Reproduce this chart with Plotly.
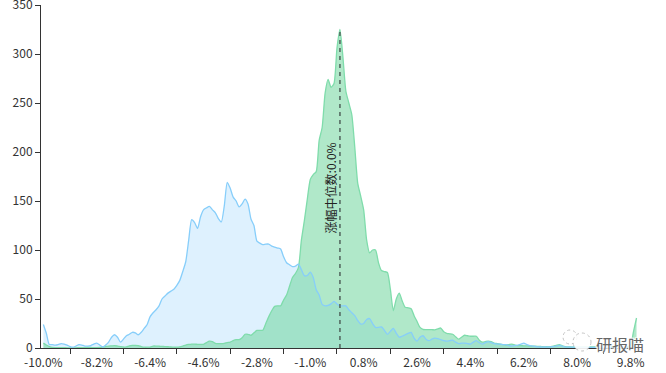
import plotly.graph_objects as go

x_values = [round(-10 + i * 0.1, 1) for i in range(201)]

blue_series = [
 24,15,3.5,3.5,3,3.5,4.5,4,3,1.5,
 .8,2,3.5,3,2,2,2.5,4,5,3,
 1,3,6,11,13.5,11,6,9,12.5,14,
 16,15.5,13.5,16,20,24,32,36,39,43,
 50,53,56,58,60,64,69,78,88,110,
 131,128,122,134,141,143,144.5,141,138,132,
 128.6,145,169,163,154,150,144,147,152,147,
 131.6,125,109,107,105.4,106,106,104,103,102,
 101,93,87,85,83,83.5,85.5,80,73.8,74,
 77.5,72,59.5,54,44.5,43,43.5,45,47.6,45,
 43,43,43,39,36,33,28,24.5,25,29,
 30,25,21,21,21.5,18,14,17,20,15,
 11,12,13.5,15,16,10,7,11,12.5,9,
 7.5,9,10,9.5,8.5,7.5,7,7.5,8,6,
 4.5,5,5,4.5,4,6,7.5,5.5,4,5.5,
 6.5,5.5,4.5,4,4,3.5,3.5,2.5,2,2.5,
 3,4,5,3.5,2.5,2,1.5,1.2,1,1,
 1,1.2,1.5,2,2.7,1.8,1,1,.8,.8,
 .8,.8,.7,.7,.6,.6,.5,.5,.5,.5,
 .5,.5,.5,.5,.6,.6,.6,.7,.8,1,
 2]

green_series = [
 5,3,1.5,.5,.3,.3,.3,.3,.2,.2,
 .2,.2,.3,.3,.3,.5,.5,.3,.3,.5,
 1,1.5,2,2.2,2.4,2,1.5,1,1.2,2.2,
 2.7,2.7,2.5,1.5,.8,.8,1,2,2,1.8,
 1.6,1.5,1.3,1,.8,.8,1.2,2,3,3.6,
 4,4,3.7,3.6,3.8,5.5,7,6.5,4.8,4.5,
 4.5,4.8,5.5,6,7.5,8.5,8.5,10.5,14,14,
 13,15.5,18,18,18.2,25,32,38,42.5,43,
 43,49,54,63,72,76,82,110,130,152,
 172,177,180,212,225,260,274,266,270,306,
 325,297,262,250,238,205,168,155,141,110,
 97,100,100,87,79,78,77,60,38,50,
 56,48,41.5,41,40,33,27,21,19,18.8,
 18.7,18.7,18.5,19.5,20.4,16.5,15,14.5,14,11.5,
 9,11,13,12.5,12,12,12,8,6,6.5,
 7,6.5,5,4.5,4,3.5,3,3.5,4,3,
 2.5,2.4,2.2,2.1,2,2,1.8,1.6,1.5,1.4,
 1.4,1.5,2,2.8,3.4,2.2,1.4,1.2,1,1,
 1,1,1,1,1,1,1,1,.9,.9,
 .8,.8,.8,.8,.9,.9,.9,1,3,17,
 30.6]

x_labels = [-10.0,-8.2,-6.4,-4.6,-2.8,-1.0,0.8,2.6,4.4,6.2,8.0,9.8]
x_tick_marks = [-9.1,-7.3,-5.5,-3.7,-1.9,-0.1,1.7,3.5,5.3,7.1,8.9]
y_ticks = [0,50,100,150,200,250,300,350]
median_value = 0.0
median_top = 325

FONT = "Noto Sans CJK SC"
SPLINE = dict(shape="spline", smoothing=0.6)
fig = go.Figure()
fig.add_trace(go.Scatter(x=x_values, y=blue_series, mode="none",
    line=SPLINE, fill="tozeroy", fillcolor="rgba(135,206,250,0.28)", hoverinfo="skip"))
fig.add_trace(go.Scatter(x=x_values, y=green_series, mode="lines",
    line=dict(color="#7fdcab", width=1.3, **SPLINE),
    fill="tozeroy", fillcolor="rgba(111,213,157,0.55)", hoverinfo="skip"))
fig.add_trace(go.Scatter(x=x_values, y=blue_series, mode="lines",
    line=dict(color="#87cefa", width=1.3, **SPLINE), hoverinfo="skip"))
fig.add_trace(go.Scatter(x=[median_value, median_value], y=[0, median_top], mode="lines",
    line=dict(color="#4f625b", width=1.5, dash="4px,4px"), hoverinfo="skip"))

fig.add_annotation(x=-0.33, y=163, text="涨幅中位数:0.0%", textangle=-90, showarrow=False,
    font=dict(family=FONT, size=12, color="#222"))
fig.add_annotation(xref="paper", yref="paper", x=1.014, y=0.012, xanchor="right", yanchor="middle",
    text="研报喵", showarrow=False,
    font=dict(family=FONT, size=16, color="#666",
              shadow="1px 1px 1px white, -1px -1px 1px white, 1px -1px 1px white, -1px 1px 1px white"))

# watermark glyph
for cx, cy, r in [(570, 337, 7), (582, 342, 9)]:
    fig.add_shape(type="circle", xref="paper", yref="paper",
        x0=(cx-r-41)/597, x1=(cx+r-41)/597,
        y0=(348-cy-r)/343, y1=(348-cy+r)/343,
        line=dict(color="#c4c4c4", width=1, dash="dot"), fillcolor="rgba(255,255,255,0.9)")

fig.update_layout(
    width=666, height=373, autosize=False,
    margin=dict(l=41, r=28, t=5, b=25, pad=0, autoexpand=False),
    paper_bgcolor="white", plot_bgcolor="white", showlegend=False,
    font=dict(family=FONT, size=12, color="#333"),
    xaxis=dict(range=[-10.08, 10.05], showgrid=False, zeroline=False, showline=True, automargin=False,
        linecolor="#333", linewidth=1, ticks="", ticklabelstandoff=4, ticklabeloverflow="allow",
        tickvals=x_labels, ticktext=[f"{v:.1f}%" for v in x_labels], tickangle=0,
        tickfont=dict(family=FONT, size=12, color="#333"),
        minor=dict(tickvals=x_tick_marks, ticks="outside", ticklen=5, tickcolor="#333", tickwidth=1, showgrid=False)),
    yaxis=dict(range=[0, 350], showgrid=False, zeroline=False, showline=True, ticklabeloverflow="allow", automargin=False,
        linecolor="#333", linewidth=1, ticks="outside", ticklen=5, tickcolor="#333",
        tickvals=y_ticks, tickfont=dict(family=FONT, size=12, color="#333")),
)
fig.write_html("out.html", config={"displayModeBar": False},
               post_script="document.body.style.margin='0';document.documentElement.style.overflow='hidden';")
